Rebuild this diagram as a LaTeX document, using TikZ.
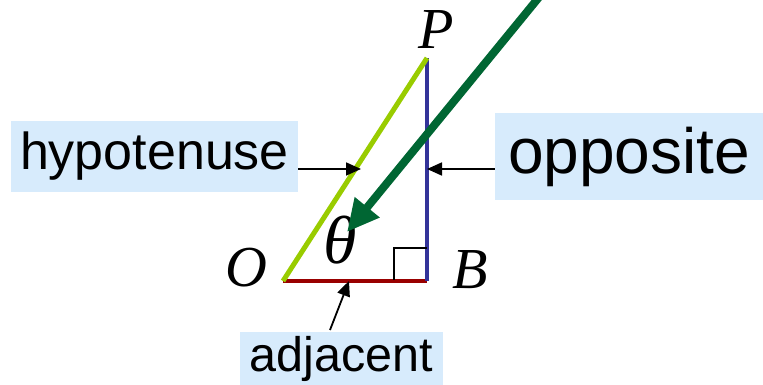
\documentclass[tikz,border=0pt]{standalone}
\usepackage{fontspec}
\setmainfont{Liberation Sans}
\newfontfamily\tnr{Liberation Serif}
\usetikzlibrary{arrows.meta}
\definecolor{boxblue}{HTML}{D7EBFC}
\definecolor{hypgreen}{HTML}{99CC00}
\definecolor{oppblue}{HTML}{333399}
\definecolor{adjred}{HTML}{990000}
\definecolor{darkgreen}{HTML}{006633}
\begin{document}
\begin{tikzpicture}[
  x=1pt,y=-1pt,
  lbl/.style={fill=boxblue, inner sep=0pt, align=center},
  pt/.style={font=\tnr\itshape\fontsize{58}{62}\selectfont},
  ptr/.style={-{Triangle[length=15pt,width=13pt]}, line width=1.8pt}
]
\useasboundingbox (0,0) rectangle (763,385);

% triangle corners
\coordinate (O) at (283,281);
\coordinate (B) at (427,281);
\coordinate (P) at (427,58);

\draw[line width=4pt, adjred] (O) -- (B);
\draw[line width=4pt, oppblue] (B) -- (P);
\draw[line width=5pt, hypgreen] (O) -- (P);
\draw[line width=1.6pt] (394,280) |- (427,248);

\node[pt] (lP) at (436,30) {P};
\node[pt] (lO) at (246,268) {O};
\node[pt] (lB) at (470,270) {B};
\node[font=\tnr\itshape\fontsize{68}{72}\selectfont] (theta) at (340,240) {θ};

% labels
\node[lbl, minimum width=287pt, minimum height=71pt, font=\fontsize{52}{56}\selectfont] (hyp) at (154.5,156.5) {hypotenuse};
\node[lbl, minimum width=268pt, minimum height=87pt, font=\fontsize{64}{68}\selectfont] (opp) at (629,156.5) {opposite};
\node[lbl, minimum width=203pt, minimum height=53pt, font=\fontsize{48.5}{52}\selectfont] (adj) at (341.5,358.5) {adjacent};

\coordinate (hside) at (361,169);
\coordinate (oside) at (427,169);
\coordinate (aside) at (349,281);
\coordinate (atail) at (330,330);
\draw[ptr] (hyp.east |- hside) -- (hside);
\draw[ptr] (opp.west |- oside) -- (oside);
\draw[ptr] (atail) -- (aside);

% big arrow
\coordinate (gtail) at (540,-4);
\coordinate (gtip) at (347,232);
\draw[-{Triangle[length=32pt,width=30pt]}, line width=8pt, darkgreen] (gtail) -- (gtip);
\end{tikzpicture}
\end{document}
